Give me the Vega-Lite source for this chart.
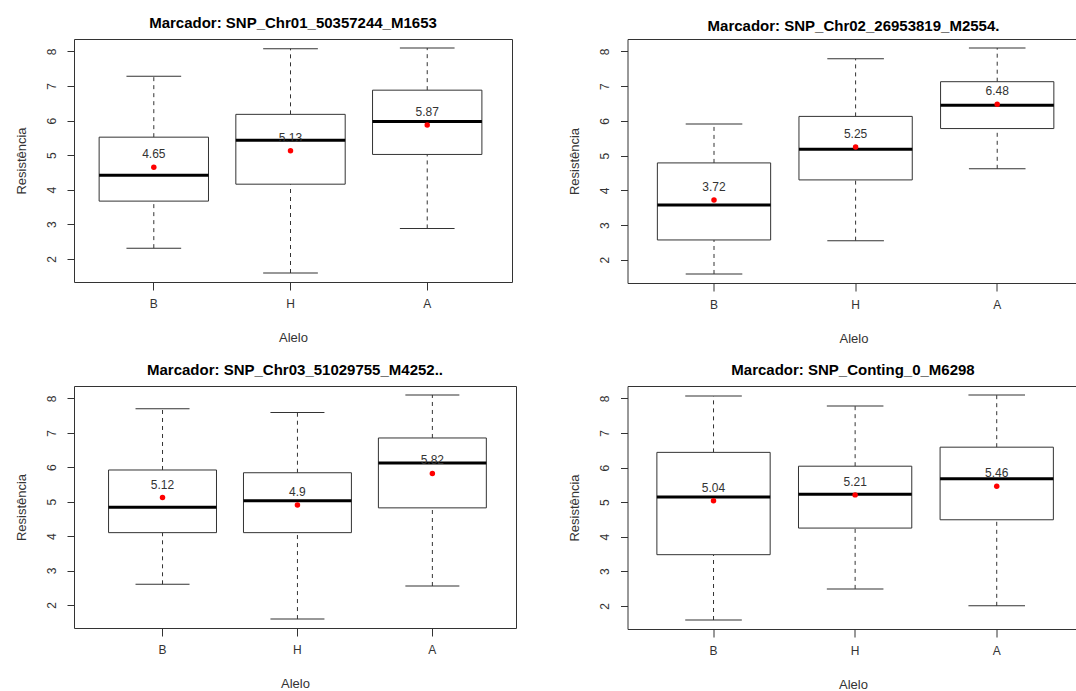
{
  "$schema": "https://vega.github.io/schema/vega-lite/v6.json",
  "padding": {"left": 14, "top": 15, "right": 0, "bottom": 0},
  "background": "white",
  "config": {
    "font": "Liberation Sans",
    "view": {"stroke": "#333", "strokeWidth": 1},
    "title": {"fontSize": 15, "fontWeight": "bold", "color": "#000", "anchor": "middle", "font": "Liberation Sans"},
    "axis": {"grid": false, "domain": false, "tickColor": "#333", "labelColor": "#333", "titleColor": "#333", "labelFont": "Liberation Sans", "titleFont": "Liberation Sans", "labelFontSize": 12, "titleFontSize": 13, "titleFontWeight": "normal"},
    "axisX": {"tickSize": 8, "labelPadding": 8, "titlePadding": 22, "labelAngle": 0},
    "axisY": {"tickSize": 7, "labelPadding": 9, "titlePadding": 17, "labelAngle": -90, "labelAlign": "center", "labelBaseline": "bottom"}
  },
  "datasets": {
    "stats": [
      {"marker": "SNP_Chr01_50357244_M1653", "allele": "B", "lower": 2.31, "q1": 3.67, "median": 4.42, "q3": 5.52, "upper": 7.28, "mean": 4.65},
      {"marker": "SNP_Chr01_50357244_M1653", "allele": "H", "lower": 1.59, "q1": 4.16, "median": 5.43, "q3": 6.18, "upper": 8.08, "mean": 5.13},
      {"marker": "SNP_Chr01_50357244_M1653", "allele": "A", "lower": 2.88, "q1": 5.02, "median": 5.97, "q3": 6.88, "upper": 8.10, "mean": 5.87},
      {"marker": "SNP_Chr02_26953819_M2554.", "allele": "B", "lower": 1.59, "q1": 2.57, "median": 3.58, "q3": 4.79, "upper": 5.91, "mean": 3.72},
      {"marker": "SNP_Chr02_26953819_M2554.", "allele": "H", "lower": 2.55, "q1": 4.30, "median": 5.18, "q3": 6.13, "upper": 7.79, "mean": 5.25},
      {"marker": "SNP_Chr02_26953819_M2554.", "allele": "A", "lower": 4.62, "q1": 5.78, "median": 6.45, "q3": 7.13, "upper": 8.10, "mean": 6.48},
      {"marker": "SNP_Chr03_51029755_M4252..", "allele": "B", "lower": 2.60, "q1": 4.10, "median": 4.84, "q3": 5.92, "upper": 7.70, "mean": 5.12},
      {"marker": "SNP_Chr03_51029755_M4252..", "allele": "H", "lower": 1.59, "q1": 4.10, "median": 5.03, "q3": 5.84, "upper": 7.59, "mean": 4.9},
      {"marker": "SNP_Chr03_51029755_M4252..", "allele": "A", "lower": 2.55, "q1": 4.82, "median": 6.12, "q3": 6.85, "upper": 8.10, "mean": 5.82},
      {"marker": "SNP_Conting_0_M6298", "allele": "B", "lower": 1.59, "q1": 3.48, "median": 5.15, "q3": 6.44, "upper": 8.07, "mean": 5.04},
      {"marker": "SNP_Conting_0_M6298", "allele": "H", "lower": 2.49, "q1": 4.25, "median": 5.23, "q3": 6.04, "upper": 7.78, "mean": 5.21},
      {"marker": "SNP_Conting_0_M6298", "allele": "A", "lower": 2.00, "q1": 4.49, "median": 5.68, "q3": 6.59, "upper": 8.10, "mean": 5.46}
    ]
  },
  "columns": 2,
  "align": "none",
  "spacing": {"row": 16, "column": 50.5},
  "concat": [
    {
      "width": 438, "height": 243,
      "title": {"text": "Marcador: SNP_Chr01_50357244_M1653", "offset": 8},
      "data": {"name": "stats"},
      "transform": [{"filter": "datum.marker === 'SNP_Chr01_50357244_M1653'"}],
      "encoding": {"x": {"field": "allele", "type": "nominal", "sort": ["B", "H", "A"], "title": "Alelo", "scale": {"paddingInner": 0.2, "paddingOuter": 0.202, "align": 0.455}}},
      "layer": [
        {"mark": {"type": "rule", "strokeDash": [4, 4], "color": "#333", "strokeWidth": 1}, "encoding": {"y": {"field": "q3", "type": "quantitative", "title": "Resistência", "axis": {"values": [2, 3, 4, 5, 6, 7, 8]}, "scale": {"domain": [1.33, 8.36], "nice": false, "zero": false}}, "y2": {"field": "upper"}}},
        {"mark": {"type": "rule", "strokeDash": [4, 4], "color": "#333", "strokeWidth": 1}, "encoding": {"y": {"field": "lower", "type": "quantitative"}, "y2": {"field": "q1"}}},
        {"mark": {"type": "tick", "size": 54.7, "thickness": 1, "color": "#333", "opacity": 1}, "encoding": {"y": {"field": "upper", "type": "quantitative"}}},
        {"mark": {"type": "tick", "size": 54.7, "thickness": 1, "color": "#333", "opacity": 1}, "encoding": {"y": {"field": "lower", "type": "quantitative"}}},
        {"mark": {"type": "bar", "fill": "white", "stroke": "#333", "strokeWidth": 1, "opacity": 1}, "encoding": {"y": {"field": "q1", "type": "quantitative"}, "y2": {"field": "q3"}}},
        {"mark": {"type": "tick", "size": 109.4, "thickness": 3, "color": "#000", "opacity": 1}, "encoding": {"y": {"field": "median", "type": "quantitative"}}},
        {"mark": {"type": "circle", "color": "#ff0000", "size": 30, "opacity": 1}, "encoding": {"y": {"field": "mean", "type": "quantitative"}}},
        {"mark": {"type": "text", "dy": -13, "fontSize": 12, "color": "#333", "baseline": "middle"}, "encoding": {"y": {"field": "mean", "type": "quantitative"}, "text": {"field": "mean", "type": "nominal"}}}
      ]
    },
    {
      "width": 452, "height": 244,
      "title": {"text": "Marcador: SNP_Chr02_26953819_M2554.", "offset": 5},
      "data": {"name": "stats"},
      "transform": [{"filter": "datum.marker === 'SNP_Chr02_26953819_M2554.'"}],
      "encoding": {"x": {"field": "allele", "type": "nominal", "sort": ["B", "H", "A"], "title": "Alelo", "scale": {"paddingInner": 0.2, "paddingOuter": 0.196, "align": 0.538}}},
      "layer": [
        {"mark": {"type": "rule", "strokeDash": [4, 4], "color": "#333", "strokeWidth": 1}, "encoding": {"y": {"field": "q3", "type": "quantitative", "title": "Resistência", "axis": {"values": [2, 3, 4, 5, 6, 7, 8]}, "scale": {"domain": [1.33, 8.36], "nice": false, "zero": false}}, "y2": {"field": "upper"}}},
        {"mark": {"type": "rule", "strokeDash": [4, 4], "color": "#333", "strokeWidth": 1}, "encoding": {"y": {"field": "lower", "type": "quantitative"}, "y2": {"field": "q1"}}},
        {"mark": {"type": "tick", "size": 56.6, "thickness": 1, "color": "#333", "opacity": 1}, "encoding": {"y": {"field": "upper", "type": "quantitative"}}},
        {"mark": {"type": "tick", "size": 56.6, "thickness": 1, "color": "#333", "opacity": 1}, "encoding": {"y": {"field": "lower", "type": "quantitative"}}},
        {"mark": {"type": "bar", "fill": "white", "stroke": "#333", "strokeWidth": 1, "opacity": 1}, "encoding": {"y": {"field": "q1", "type": "quantitative"}, "y2": {"field": "q3"}}},
        {"mark": {"type": "tick", "size": 113.3, "thickness": 3, "color": "#000", "opacity": 1}, "encoding": {"y": {"field": "median", "type": "quantitative"}}},
        {"mark": {"type": "circle", "color": "#ff0000", "size": 30, "opacity": 1}, "encoding": {"y": {"field": "mean", "type": "quantitative"}}},
        {"mark": {"type": "text", "dy": -13, "fontSize": 12, "color": "#333", "baseline": "middle"}, "encoding": {"y": {"field": "mean", "type": "quantitative"}, "text": {"field": "mean", "type": "nominal"}}}
      ]
    },
    {
      "width": 442, "height": 242,
      "title": {"text": "Marcador: SNP_Chr03_51029755_M4252..", "offset": 8},
      "data": {"name": "stats"},
      "transform": [{"filter": "datum.marker === 'SNP_Chr03_51029755_M4252..'"}],
      "encoding": {"x": {"field": "allele", "type": "nominal", "sort": ["B", "H", "A"], "title": "Alelo", "scale": {"paddingInner": 0.2, "paddingOuter": 0.238, "align": 0.538}}},
      "layer": [
        {"mark": {"type": "rule", "strokeDash": [4, 4], "color": "#333", "strokeWidth": 1}, "encoding": {"y": {"field": "q3", "type": "quantitative", "title": "Resistência", "axis": {"values": [2, 3, 4, 5, 6, 7, 8]}, "scale": {"domain": [1.33, 8.36], "nice": false, "zero": false}}, "y2": {"field": "upper"}}},
        {"mark": {"type": "rule", "strokeDash": [4, 4], "color": "#333", "strokeWidth": 1}, "encoding": {"y": {"field": "lower", "type": "quantitative"}, "y2": {"field": "q1"}}},
        {"mark": {"type": "tick", "size": 54, "thickness": 1, "color": "#333", "opacity": 1}, "encoding": {"y": {"field": "upper", "type": "quantitative"}}},
        {"mark": {"type": "tick", "size": 54, "thickness": 1, "color": "#333", "opacity": 1}, "encoding": {"y": {"field": "lower", "type": "quantitative"}}},
        {"mark": {"type": "bar", "fill": "white", "stroke": "#333", "strokeWidth": 1, "opacity": 1}, "encoding": {"y": {"field": "q1", "type": "quantitative"}, "y2": {"field": "q3"}}},
        {"mark": {"type": "tick", "size": 107.9, "thickness": 3, "color": "#000", "opacity": 1}, "encoding": {"y": {"field": "median", "type": "quantitative"}}},
        {"mark": {"type": "circle", "color": "#ff0000", "size": 30, "opacity": 1}, "encoding": {"y": {"field": "mean", "type": "quantitative"}}},
        {"mark": {"type": "text", "dy": -13, "fontSize": 12, "color": "#333", "baseline": "middle"}, "encoding": {"y": {"field": "mean", "type": "quantitative"}, "text": {"field": "mean", "type": "nominal"}}}
      ]
    },
    {
      "width": 451, "height": 243,
      "title": {"text": "Marcador: SNP_Conting_0_M6298", "offset": 8},
      "data": {"name": "stats"},
      "transform": [{"filter": "datum.marker === 'SNP_Conting_0_M6298'"}],
      "encoding": {"x": {"field": "allele", "type": "nominal", "sort": ["B", "H", "A"], "title": "Alelo", "scale": {"paddingInner": 0.2, "paddingOuter": 0.1925, "align": 0.539}}},
      "layer": [
        {"mark": {"type": "rule", "strokeDash": [4, 4], "color": "#333", "strokeWidth": 1}, "encoding": {"y": {"field": "q3", "type": "quantitative", "title": "Resistência", "axis": {"values": [2, 3, 4, 5, 6, 7, 8]}, "scale": {"domain": [1.33, 8.36], "nice": false, "zero": false}}, "y2": {"field": "upper"}}},
        {"mark": {"type": "rule", "strokeDash": [4, 4], "color": "#333", "strokeWidth": 1}, "encoding": {"y": {"field": "lower", "type": "quantitative"}, "y2": {"field": "q1"}}},
        {"mark": {"type": "tick", "size": 56.6, "thickness": 1, "color": "#333", "opacity": 1}, "encoding": {"y": {"field": "upper", "type": "quantitative"}}},
        {"mark": {"type": "tick", "size": 56.6, "thickness": 1, "color": "#333", "opacity": 1}, "encoding": {"y": {"field": "lower", "type": "quantitative"}}},
        {"mark": {"type": "bar", "fill": "white", "stroke": "#333", "strokeWidth": 1, "opacity": 1}, "encoding": {"y": {"field": "q1", "type": "quantitative"}, "y2": {"field": "q3"}}},
        {"mark": {"type": "tick", "size": 113.3, "thickness": 3, "color": "#000", "opacity": 1}, "encoding": {"y": {"field": "median", "type": "quantitative"}}},
        {"mark": {"type": "circle", "color": "#ff0000", "size": 30, "opacity": 1}, "encoding": {"y": {"field": "mean", "type": "quantitative"}}},
        {"mark": {"type": "text", "dy": -13, "fontSize": 12, "color": "#333", "baseline": "middle"}, "encoding": {"y": {"field": "mean", "type": "quantitative"}, "text": {"field": "mean", "type": "nominal"}}}
      ]
    }
  ]
}
